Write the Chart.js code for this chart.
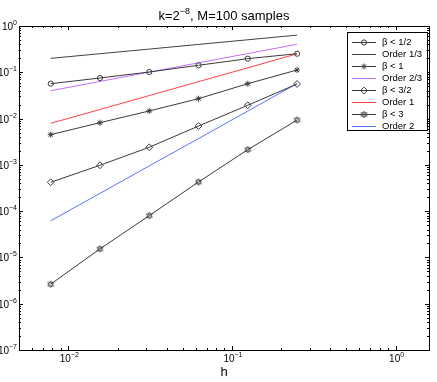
<!DOCTYPE html>
<html>
<head>
<meta charset="utf-8">
<script src="https://cdn.jsdelivr.net/npm/chart.js@4.4.0/dist/chart.umd.min.js"></script>
<style>
  html, body { margin: 0; padding: 0; background: #fff; }
  canvas { display: block; }
</style>
</head>
<body>
<canvas id="errChart" width="437" height="382"></canvas>
<script>
// step sizes h = 2^-7 ... 2^-2
const hValues = [0.0078125, 0.015625, 0.03125, 0.0625, 0.125, 0.25];

// measured errors
const beta12 = [0.0567, 0.0753, 0.1015, 0.1416, 0.197, 0.252];
const beta1 = [0.00449, 0.00815, 0.0146, 0.0269, 0.0567, 0.112];
const beta32 = [0.00042, 0.00098, 0.0024, 0.0069, 0.0194, 0.0559];
const beta3 = [0.00000264, 0.0000153, 0.00008, 0.000427, 0.00213, 0.0093];

// reference slopes
const order13 = [0.2, 0.252, 0.317, 0.4, 0.504, 0.635];
const order23 = [0.04, 0.0635, 0.1008, 0.16, 0.254, 0.403];
const order1 = [0.0079, 0.0157, 0.0314, 0.0627, 0.125, 0.25];
const order2 = [0.000062, 0.000242, 0.00095, 0.0037, 0.0145, 0.057];

const seriesLabels = ["β < 1/2", "Order 1/3", "β < 1", "Order 2/3", "β < 3/2", "Order 1", "β < 3", "Order 2"];
const xTickExps = [-2, -1, 0];
const yTickExps = [0, -1, -2, -3, -4, -5, -6, -7];

const FONT = "'Liberation Sans', Arial, Helvetica, sans-serif";
const dark = "#3a3a3a";

// six-pointed star marker (matlab 'h')
const hexagram = document.createElement("canvas");
hexagram.width = 9;
hexagram.height = 9;
(() => {
  const c = hexagram.getContext("2d");
  c.strokeStyle = dark;
  c.lineWidth = 0.8;
  const cx = 4.5, cy = 4.5, r = 3.4;
  [-90, 90].forEach(start => {
    c.beginPath();
    for (let i = 0; i < 3; i++) {
      const a = (start + i * 120) * Math.PI / 180;
      const px = cx + r * Math.cos(a), py = cy + r * Math.sin(a);
      if (i === 0) c.moveTo(px, py); else c.lineTo(px, py);
    }
    c.closePath();
    c.stroke();
  });
})();

const toPoints = vals => vals.map((v, i) => ({ x: hValues[i], y: v }));

const marked = (label, vals, style, radius) => ({
  label: label,
  data: toPoints(vals),
  borderColor: dark,
  backgroundColor: "rgba(0,0,0,0)",
  borderWidth: 1,
  pointStyle: style,
  pointRadius: radius,
  pointBorderColor: dark,
  pointBackgroundColor: "rgba(0,0,0,0)",
  pointBorderWidth: 1,
  tension: 0,
});

const plain = (label, vals, color) => ({
  label: label,
  data: toPoints(vals),
  borderColor: color,
  backgroundColor: color,
  borderWidth: 1,
  pointRadius: 0,
  pointStyle: false,
  tension: 0,
});

const datasets = [
  marked(seriesLabels[0], beta12, "circle", 2.6),
  plain(seriesLabels[1], order13, "#404040"),
  marked(seriesLabels[2], beta1, "star", 3),
  plain(seriesLabels[3], order23, "#c26cff"),
  marked(seriesLabels[4], beta32, "rectRot", 3.4),
  plain(seriesLabels[5], order1, "#ff4040"),
  marked(seriesLabels[6], beta3, hexagram, 3.5),
  plain(seriesLabels[7], order2, "#5a72ff"),
];

// draw "10" with a raised exponent
function powerLabel(ctx, exp, x, y, align) {
  const base = "10", sup = exp < 0 ? "\u2212" + (-exp) : String(exp);
  ctx.font = "10px " + FONT;
  const wb = ctx.measureText(base).width;
  ctx.font = "7px " + FONT;
  const ws = ctx.measureText(sup).width;
  let x0 = x;
  if (align === "right") x0 = x - wb - ws;
  if (align === "center") x0 = x - (wb + ws) / 2;
  ctx.textAlign = "left";
  ctx.textBaseline = "alphabetic";
  ctx.font = "10px " + FONT;
  ctx.fillText(base, x0, y);
  ctx.font = "7px " + FONT;
  ctx.fillText(sup, x0 + wb, y - 5);
}

const matlabAxes = {
  id: "matlabAxes",
  afterDraw(chart) {
    const { ctx, chartArea: a, scales: { x, y } } = chart;
    ctx.save();
    ctx.strokeStyle = "#000";
    ctx.fillStyle = "#000";
    ctx.lineWidth = 1;

    const seg = (x1, y1, x2, y2) => {
      ctx.beginPath();
      ctx.moveTo(x1, y1);
      ctx.lineTo(x2, y2);
      ctx.stroke();
    };

    // ticks, inside, on all four sides
    for (let e = -3; e <= 0; e++) {
      for (let m = 1; m < 10; m++) {
        const v = m * Math.pow(10, e);
        if (v < x.min || v > x.max) continue;
        const px = Math.round(x.getPixelForValue(v)) + 0.5;
        const len = m === 1 ? 4 : 2;
        seg(px, a.bottom, px, a.bottom - len);
        seg(px, a.top, px, a.top + len);
      }
    }
    for (let e = -7; e <= 0; e++) {
      for (let m = 1; m < 10; m++) {
        const v = m * Math.pow(10, e);
        if (v < y.min || v > y.max) continue;
        const py = Math.round(y.getPixelForValue(v)) + 0.5;
        const len = m === 1 ? 4 : 2;
        seg(a.left, py, a.left + len, py);
        seg(a.right, py, a.right - len, py);
      }
    }

    ctx.strokeRect(Math.round(a.left) + 0.5, Math.round(a.top) + 0.5,
      Math.round(a.right - a.left), Math.round(a.bottom - a.top));

    // tick labels
    yTickExps.forEach(e => {
      const py = y.getPixelForValue(Math.pow(10, e));
      powerLabel(ctx, e, 17, py + 4, "right");
    });
    xTickExps.forEach(e => {
      const px = x.getPixelForValue(Math.pow(10, e));
      powerLabel(ctx, e, px + 1, a.bottom + 12, "center");
    });

    // axis label
    ctx.font = "13px " + FONT;
    ctx.textAlign = "center";
    ctx.fillText("h", (a.left + a.right) / 2, a.bottom + 26);

    // title with superscript
    const t1 = "k=2", t2 = "\u22128", t3 = ", M=100 samples";
    ctx.font = "13px " + FONT;
    const w1 = ctx.measureText(t1).width, w3 = ctx.measureText(t3).width;
    ctx.font = "9px " + FONT;
    const w2 = ctx.measureText(t2).width;
    let tx = (a.left + a.right) / 2 - (w1 + w2 + w3) / 2;
    ctx.textAlign = "left";
    ctx.font = "13px " + FONT;
    ctx.fillText(t1, tx, 20);
    ctx.font = "9px " + FONT;
    ctx.fillText(t2, tx + w1, 14);
    ctx.font = "13px " + FONT;
    ctx.fillText(t3, tx + w1 + w2, 20);

    // legend box
    const lx = 347, ly = 32, lw = 80, lh = 98;
    ctx.fillStyle = "#fff";
    ctx.fillRect(lx, ly, lw, lh);
    ctx.strokeStyle = "#000";
    ctx.strokeRect(lx + 0.5, ly + 0.5, lw, lh);
    const drawPoint = Chart.helpers && Chart.helpers.drawPoint;
    chart.data.datasets.forEach((ds, i) => {
      const ry = Math.round(ly + 9.5 + i * 12.1) + 0.5;
      ctx.strokeStyle = ds.borderColor;
      ctx.lineWidth = 1;
      seg(352, ry, 376, ry);
      if (ds.pointStyle && drawPoint) {
        ctx.strokeStyle = ds.pointBorderColor;
        ctx.fillStyle = "rgba(0,0,0,0)";
        drawPoint(ctx, { pointStyle: ds.pointStyle, rotation: 0, radius: ds.pointRadius, borderWidth: 1 }, 364, ry);
      }
      ctx.fillStyle = "#000";
      ctx.font = "9.5px " + FONT;
      ctx.textAlign = "left";
      ctx.textBaseline = "middle";
      ctx.fillText(ds.label, 382, ry);
      ctx.textBaseline = "alphabetic";
    });

    ctx.restore();
  },
};

const chart = new Chart(document.getElementById("errChart").getContext("2d"), {
  type: "line",
  data: { datasets: datasets },
  options: {
    responsive: false,
    animation: false,
    layout: { padding: { left: 19, right: 8, top: 26, bottom: 32 } },
    plugins: {
      legend: { display: false },
      title: { display: false },
      tooltip: { enabled: false },
    },
    scales: {
      x: { type: "logarithmic", min: 0.005, max: 1.6, display: false },
      y: { type: "logarithmic", min: 1e-7, max: 1, display: false },
    },
  },
  plugins: [matlabAxes],
});
</script>
</body>
</html>
